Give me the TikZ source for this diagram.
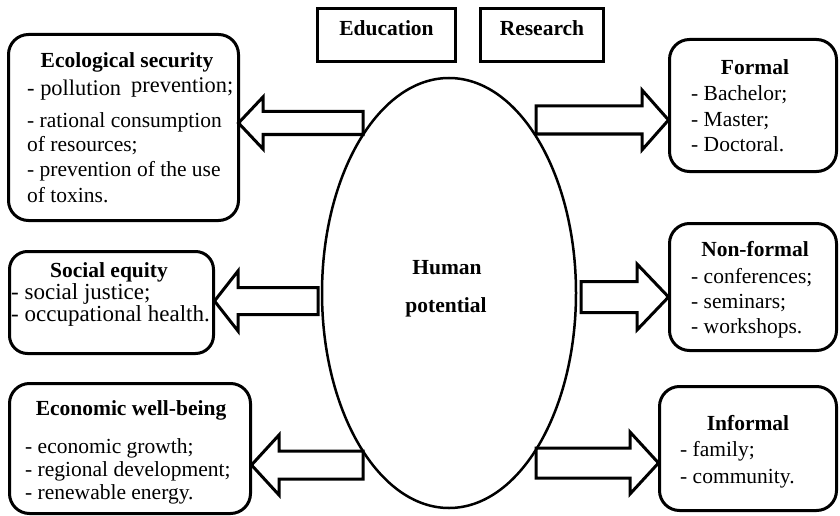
\documentclass[tikz,border=0pt]{standalone}
\usepackage{fontspec}
\setmainfont{Liberation Serif}
\usetikzlibrary{shapes.geometric}
\newcommand{\blockarr}[6]{%
  \draw[barrow] (#1,#2) -- (#3,#2-#5) -- (#3,#2-#6) -- (#4,#2-#6) -- (#4,#2+#6) -- (#3,#2+#6) -- (#3,#2+#5) -- cycle;}
\begin{document}
\begin{tikzpicture}[x=1pt,y=-1pt,
  rbox/.style={draw, line width=3pt, rounded corners=20pt, inner sep=0pt},
  sbox/.style={draw, line width=3pt, inner sep=0pt},
  barrow/.style={draw, line width=3pt, line join=miter, miter limit=10},
  item/.style={inner sep=0pt, font=\fontsize{21.5}{25}\selectfont, text height=15pt, text depth=5pt, anchor=west},
  bigitem/.style={item, font=\fontsize{23}{25}\selectfont},
  miditem/.style={item, font=\fontsize{22.4}{25}\selectfont},
  ttl/.style={inner sep=0pt, font=\fontsize{21.5}{25}\selectfont\bfseries, text height=15pt, text depth=5pt}]
\useasboundingbox (0,0) rectangle (840,516);
\fill[white] (0,0) rectangle (840,516);

% top boxes
\node[sbox, minimum width=138pt, minimum height=53pt] (edu) at (386.5,35) {};
\node[ttl] (edut) at (386.5,31) {Education};
\node[sbox, minimum width=123pt, minimum height=53pt] (res) at (542,35) {};
\node[ttl] (rest) at (542,31) {Research};

% ellipse
\node[draw, ellipse, line width=2.5pt, inner sep=0pt, minimum width=254pt, minimum height=430pt] (hp) at (449,293) {};
\node[ttl] (hp1) at (447,269) {Human};
\node[ttl] (hp2) at (446,307) {potential};

% left boxes
\node[rbox, minimum width=230pt, minimum height=186pt] (eco) at (123.5,127.5) {};
\node[ttl] (ecot) at (127,63) {Ecological security};
\node[miditem] (eco1) at (27,91) {- pollution};
\node[miditem] (eco1b) at (131,88) {prevention;};
\node[item] (eco2) at (27,123) {- rational consumption};
\node[item] (eco3) at (27,146) {of resources;};
\node[item] (eco4) at (27,171) {- prevention of the use};
\node[item] (eco5) at (27,197) {of toxins.};

\node[rbox, rounded corners=18pt, minimum width=204pt, minimum height=102pt] (soc) at (111.5,302.5) {};
\node[ttl] (soct) at (109,272) {Social equity};
\node[bigitem] (soc1) at (11,294) {- social justice;};
\node[bigitem] (soc2) at (11,316) {- occupational health.};

\node[rbox, minimum width=241pt, minimum height=130pt] (ecn) at (130,448.5) {};
\node[ttl] (ecnt) at (131,410) {Economic well-being};
\node[item] (ecn1) at (25,448) {- economic growth;};
\node[item] (ecn2) at (25,471) {- regional development;};
\node[item] (ecn3) at (25,494) {- renewable energy.};

% right boxes
\node[rbox, minimum width=167pt, minimum height=132pt] (frm) at (753,105.5) {};
\node[ttl] (frmt) at (755,70) {Formal};
\node[item] (frm1) at (691,96) {- Bachelor;};
\node[item] (frm2) at (691,121) {- Master;};
\node[item] (frm3) at (691,146) {- Doctoral.};

\node[rbox, minimum width=167pt, minimum height=127pt] (nfm) at (753,287) {};
\node[ttl] (nfmt) at (755,251) {Non-formal};
\node[item] (nfm1) at (691,278) {- conferences;};
\node[item] (nfm2) at (691,303) {- seminars;};
\node[item] (nfm3) at (691,328) {- workshops.};

\node[rbox, minimum width=177pt, minimum height=124pt] (inf) at (748,448.5) {};
\node[ttl] (inft) at (748,425) {Informal};
\node[item] (inf1) at (680,451) {- family;};
\node[item] (inf2) at (680,478) {- community.};

% block arrows: tipx, y, basex, endx, head half, shaft half
\blockarr{238.5}{123}{263}{363}{26}{11.5}
\blockarr{214.5}{301}{238}{318}{30}{13.5}
\blockarr{251.5}{465}{279}{363}{30}{14}
\blockarr{668.5}{120}{642}{536}{30}{14}
\blockarr{668.5}{297}{637}{581}{33}{15.5}
\blockarr{658.5}{463}{630}{536}{31}{15}
\end{tikzpicture}
\end{document}
